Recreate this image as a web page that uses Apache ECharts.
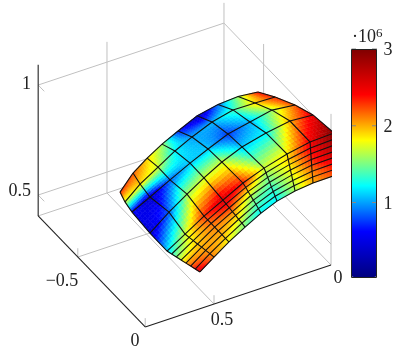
<!DOCTYPE html><html><head><meta charset="utf-8"><style>html,body{margin:0;background:#fff}#c{width:399px;height:354px}</style>
<script src="https://cdn.jsdelivr.net/npm/echarts@6/dist/echarts.min.js"></script></head><body><div id="c"></div><script>
const surfaceX=[0.56,0.49,0.42,0.35,0.28,0.21,0.14,0.07,0];
const surfaceY=[
[0,-0.017,-0.028,-0.03,-0.033,-0.036,-0.024,-0.012,0.015],
[-0.035,-0.048,-0.054,-0.053,-0.053,-0.05,-0.032,-0.015,0.015],
[-0.069,-0.079,-0.08,-0.077,-0.071,-0.064,-0.041,-0.019,0.015],
[-0.104,-0.109,-0.107,-0.1,-0.09,-0.078,-0.049,-0.022,0.019],
[-0.14,-0.14,-0.134,-0.124,-0.11,-0.091,-0.058,-0.025,0.019],
[-0.175,-0.171,-0.16,-0.147,-0.129,-0.105,-0.066,-0.028,0.019],
[-0.21,-0.202,-0.186,-0.171,-0.147,-0.118,-0.075,-0.031,0.022],
[-0.244,-0.232,-0.213,-0.194,-0.167,-0.132,-0.083,-0.034,0.022],
[-0.371,-0.351,-0.339,-0.335,-0.323,-0.296,-0.239,-0.183,-0.134],
[-0.504,-0.492,-0.465,-0.438,-0.426,-0.4,-0.358,-0.316,-0.267],
[-0.556,-0.566,-0.554,-0.55,-0.545,-0.518,-0.484,-0.442,-0.415],
[-0.593,-0.618,-0.635,-0.646,-0.649,-0.63,-0.595,-0.568,-0.542]];
const surfaceZ=[
[0.572,0.604,0.641,0.682,0.719,0.747,0.776,0.795,0.819],
[0.563,0.6,0.641,0.686,0.727,0.76,0.795,0.82,0.847],
[0.555,0.595,0.641,0.688,0.735,0.773,0.813,0.844,0.875],
[0.546,0.591,0.641,0.691,0.742,0.785,0.832,0.869,0.905],
[0.537,0.585,0.641,0.693,0.749,0.798,0.85,0.893,0.933],
[0.529,0.581,0.641,0.696,0.756,0.811,0.869,0.918,0.961],
[0.52,0.576,0.641,0.698,0.764,0.824,0.887,0.942,0.991],
[0.512,0.572,0.641,0.701,0.771,0.836,0.906,0.967,1.019],
[0.513,0.596,0.661,0.712,0.767,0.828,0.903,0.968,1.002],
[0.524,0.575,0.645,0.714,0.761,0.821,0.877,0.933,0.963],
[0.537,0.587,0.647,0.698,0.74,0.8,0.852,0.885,0.905],
[0.558,0.604,0.636,0.668,0.701,0.757,0.806,0.835,0.847]];
const surfaceC=[
[2.6,2.1,1.8,1.5,1.2,1.2,1.6,2.0,2.2],
[2.4,2.1,1.9,1.6,1.3,1.25,1.65,2.05,2.3],
[2.2,2.05,2.0,1.8,1.4,1.3,1.7,2.1,2.4],
[2.0,2.0,2.05,1.95,1.5,1.35,1.75,2.2,2.6],
[1.75,1.95,2.1,2.1,1.65,1.45,1.8,2.3,2.7],
[1.5,1.85,2.15,2.3,1.85,1.5,1.85,2.35,2.8],
[1.3,1.8,2.2,2.45,2.1,1.6,1.9,2.45,2.9],
[1.1,1.7,2.3,2.6,2.35,1.7,1.85,2.45,3.0],
[0.4,0.85,1.6,1.7,1.7,1.1,1.2,2.0,2.5],
[0.6,0.35,0.85,1.1,1.1,0.75,1.05,1.6,2.2],
[1.7,1.9,1.7,1.2,1.0,1.05,1.35,1.9,2.3],
[2.3,2.2,1.9,1.6,0.7,0.3,0.9,1.6,2.4]];
const zTicks=[0.5,1], cbTicks=[1,2,3];
const jet=['#00007f','#0000ff','#00ffff','#ffff00','#ff0000','#7f0000'];
const cMin=0.03,cMax=3;
const P=(x,y,z)=>[331-234*x+134.8*y,265+78*x+139.8*y-220*(z-0.405)];
const xMax=0.794,yMin=-0.794,zMin=0.405,zMax=1.092;
const R=surfaceY.length,Cn=surfaceX.length,S=7;
const screen=surfaceY.map((row,r)=>row.map((y,c)=>P(surfaceX[c],y,surfaceZ[r][c])));
const nodeX=screen.map(row=>row.map(p=>p[0])),nodeY=screen.map(row=>row.map(p=>p[1]));
const polys=[];
const bil=(t,r,c,u,v)=>(1-u)*(1-v)*t[r][c]+u*(1-v)*t[r][c+1]+(1-u)*v*t[r+1][c]+u*v*t[r+1][c+1];
for(let r=0;r<R-1;r++)for(let c=0;c<Cn-1;c++)for(let i=0;i<S;i++)for(let j=0;j<S;j++){
 const u0=i/S,u1=(i+1)/S,v0=j/S,v1=(j+1)/S;
 polys.push([bil(surfaceC,r,c,(u0+u1)/2,(v0+v1)/2),
  bil(nodeX,r,c,u0,v0),bil(nodeY,r,c,u0,v0),bil(nodeX,r,c,u1,v0),bil(nodeY,r,c,u1,v0),
  bil(nodeX,r,c,u1,v1),bil(nodeY,r,c,u1,v1),bil(nodeX,r,c,u0,v1),bil(nodeY,r,c,u0,v1)]);
}
const meshLines=[];
for(let r=0;r<R;r++)meshLines.push(screen[r]);
for(let c=0;c<Cn;c++)meshLines.push(screen.map(row=>row[c]));
const gray='#c0c0c0';
const seg=(a,b,col,w)=>({type:'line',shape:{x1:a[0],y1:a[1],x2:b[0],y2:b[1]},style:{stroke:col,lineWidth:w}});
const xT=0.5,yT=-0.5;
function frame(api){
 const L=p=>api.coord(p),ch=[];
 const l=(a,b,c,w)=>ch.push(seg(L(P(...a)),L(P(...b)),c,w));
 l([xMax,yMin,zMin],[0,yMin,zMin],gray,1);l([0,yMin,zMin],[0,0,zMin],gray,1);
 for(const z of zTicks){l([xMax,yMin,z],[0,yMin,z],gray,1);l([0,yMin,z],[0,0,z],gray,1);
  l([xMax,yMin,z],[xMax,yMin+0.045,z],gray,1);}
 l([0,yMin,zMin],[0,yMin,zMax],gray,1);l([0,0,zMin],[0,0,zMax],gray,1);
 l([xT,yMin,zMin],[xT,yMin,zMax],gray,1);l([0,yT,zMin],[0,yT,zMax],gray,1);
 l([xT,0,zMin],[xT,yMin,zMin],gray,1);l([xMax,yT,zMin],[0,yT,zMin],gray,1);
 l([xT,0,zMin],[xT,0,zMin+0.04],gray,1);l([xMax,yT,zMin],[xMax,yT,zMin+0.04],gray,1);l([xMax,0,zMin],[xMax,0,zMin+0.04],gray,1);
 return {type:'group',children:ch};
}
function axes(api){
 const L=p=>api.coord(p),ch=[];
 const l=(a,b)=>ch.push(seg(L(P(...a)),L(P(...b)),'#222',1.1));
 l([xMax,yMin,zMin],[xMax,yMin,zMax]);l([xMax,yMin,zMin],[xMax,0,zMin]);l([xMax,0,zMin],[0,0,zMin]);
 const F='"Liberation Serif",serif';
 const t=(s,x,y,al)=>ch.push({type:'text',x,y,style:{text:s,font:'18px '+F,fill:'#222',textAlign:al||'center',textVerticalAlign:'middle'}});
 t('1',31,84,'right');t('0.5',31,191,'right');t('\u22120.5',62,281);t('0',135,341);t('0.5',222,320);t('0',338,278);
 t('3',388,50);t('2',388,127);t('1',388,204);
 ch.push({type:'text',x:352,y:37,style:{rich:{a:{font:'18px '+F,fill:'#222'},b:{font:'13px '+F,fill:'#222',verticalAlign:'top',padding:[0,0,7,0]}},text:'{a|\u00b710}{b|6}',textVerticalAlign:'middle'}});
 return {type:'group',children:ch};
}
const chart=echarts.init(document.getElementById('c'),null,{renderer:'canvas'});
const ax=(i,w,inv)=>({gridIndex:i,min:0,max:w,inverse:inv,show:false});
chart.setOption({animation:false,
 grid:[{left:0,top:0,width:399,height:354},{left:0,top:0,width:331.5,height:354}],
 xAxis:[{type:'value',...ax(0,399)},{type:'value',...ax(1,331.5)}],
 yAxis:[{type:'value',...ax(0,354,true)},{type:'value',...ax(1,354,true)}],
 visualMap:{type:'continuous',seriesIndex:1,dimension:0,min:cMin,max:cMax,calculable:false,showLabel:false,text:null,
  inRange:{color:jet},left:351,top:49,itemWidth:26,itemHeight:228,padding:0,realtime:false,hoverLink:false,
  borderColor:'transparent',borderWidth:0},
 series:[
 {type:'custom',coordinateSystem:'cartesian2d',silent:true,data:[[0]],renderItem:(p,api)=>frame(api),z:1},
 {type:'custom',coordinateSystem:'cartesian2d',xAxisIndex:1,yAxisIndex:1,clip:true,silent:true,data:polys,encode:{x:1,y:2},z:2,progressive:0,
  renderItem:(p,api)=>{const pts=[];for(let k=1;k<=8;k+=2)pts.push(api.coord([api.value(k),api.value(k+1)]));
   const c=api.visual('color');return {type:'polygon',shape:{points:pts},style:{fill:c,stroke:c,lineWidth:0.6}};}},
 {type:'custom',coordinateSystem:'cartesian2d',xAxisIndex:1,yAxisIndex:1,clip:true,silent:true,data:meshLines.map((l,i)=>[i]),z:3,
  renderItem:(p,api)=>({type:'polyline',shape:{points:meshLines[api.value(0)].map(q=>api.coord(q))},style:{fill:null,stroke:'#111',lineWidth:1.1}})},
 {type:'custom',coordinateSystem:'cartesian2d',silent:true,data:[[0]],renderItem:(p,api)=>axes(api),z:4},
 {type:'custom',coordinateSystem:'cartesian2d',silent:true,data:cbTicks.map(v=>[v]),z:5,
  renderItem:(p,api)=>{const v=api.value(0),y=49+228*(cMax-v)/(cMax-cMin);
   return {type:'group',children:[seg([351.5,y],[356,y],'#888',1),seg([372,y],[377,y],'#888',1)]};}}
 ],
 graphic:[{type:'rect',shape:{x:351.5,y:49.5,width:25,height:228},style:{fill:null,stroke:'#222',lineWidth:1},z:100}]
});
</script></body></html>
